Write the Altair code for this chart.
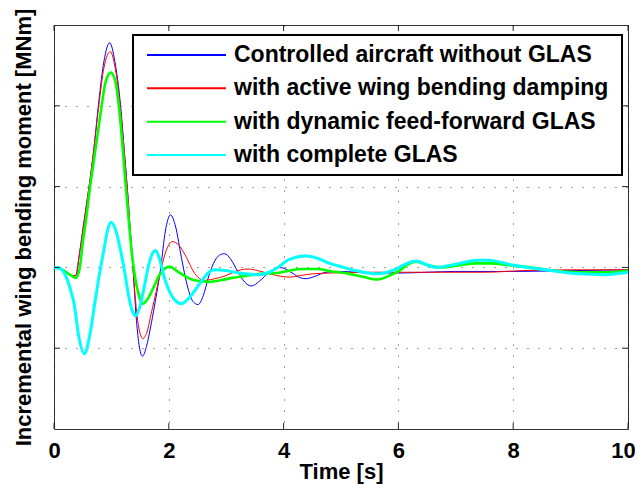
import altair as alt
import pandas as pd

FONT = "Liberation Sans"

series_names = [
    "Controlled aircraft without GLAS",
    "with active wing bending damping",
    "with dynamic feed-forward GLAS",
    "with complete GLAS",
]
series_colors = ["#0000ff", "#ff0000", "#00ff00", "#00ffff"]
series_widths = [1.0, 1.0, 2.6, 3.0]

blue_t = [0, 0.15, 0.3, 0.38, 0.44, 0.5, 0.57, 0.63, 0.7, 0.78, 0.87, 0.97, 1.06, 1.16, 1.23, 1.28,
          1.33, 1.38, 1.43, 1.48, 1.54, 1.61, 1.68, 1.75, 1.86, 1.94, 2.03, 2.12, 2.22, 2.32, 2.42,
          2.51, 2.6, 2.7, 2.8, 2.88, 2.97, 3.08, 3.2, 3.32, 3.44, 3.58, 3.75, 3.9, 4.0, 4.15, 4.3,
          4.39, 4.55, 4.74, 5.0, 5.5, 6.0, 6.5, 7.0, 8.0, 9.0, 10.0]
blue_y = [0, -0.03, -0.1, -0.1, 0.15, 0.45, 0.8, 1.1, 1.5, 2.05, 2.55, 2.78, 2.55, 2.0, 1.4, 0.95,
          0.45, -0.05, -0.6, -0.95, -1.1, -0.98, -0.75, -0.48, 0.0, 0.45, 0.65, 0.5, 0.12, -0.22, -0.42,
          -0.46, -0.35, -0.1, 0.08, 0.15, 0.17, 0.1, -0.05, -0.18, -0.23, -0.17, -0.06, 0.0, -0.01, -0.07, -0.13,
          -0.14, -0.11, -0.06, -0.05, -0.07, -0.07, -0.06, -0.05, -0.05, -0.04, -0.03]

red_t = [0, 0.15, 0.3, 0.38, 0.44, 0.5, 0.57, 0.63, 0.7, 0.78, 0.87, 0.98, 1.07, 1.16, 1.23, 1.28,
         1.33, 1.38, 1.44, 1.5, 1.55, 1.62, 1.7, 1.78, 1.86, 1.95, 2.06, 2.18, 2.31, 2.42, 2.54, 2.62,
         2.8, 3.0, 3.2, 3.38, 3.55, 3.76, 3.95, 4.1, 4.3, 4.5, 4.8, 5.5, 6.5, 7.5, 8.16, 9.0, 10.0]
red_y = [0, -0.03, -0.1, -0.1, 0.15, 0.45, 0.8, 1.1, 1.5, 2.0, 2.47, 2.67, 2.45, 1.95, 1.38, 0.95,
         0.45, -0.05, -0.55, -0.82, -0.88, -0.8, -0.55, -0.3, -0.04, 0.2, 0.32, 0.27, 0.12, -0.04, -0.14, -0.16,
         -0.14, -0.1, -0.04, -0.02, -0.04, -0.08, -0.11, -0.12, -0.1, -0.08, -0.07, -0.06, -0.06, -0.06, -0.04, -0.03, -0.03]

green_t = [0, 0.15, 0.3, 0.38, 0.45, 0.5, 0.56, 0.62, 0.69, 0.75, 0.82, 0.9, 0.99, 1.07, 1.13, 1.2,
           1.25, 1.3, 1.36, 1.42, 1.48, 1.55, 1.64, 1.74, 1.83, 1.92, 2.02, 2.13, 2.26, 2.4, 2.55, 2.71,
           2.9, 3.1, 3.29, 3.6, 3.87, 4.1, 4.3, 4.57, 4.85, 5.15, 5.4, 5.64, 5.85, 6.02, 6.15, 6.31,
           6.5, 6.75, 7.0, 7.35, 7.6, 8.0, 8.3, 8.57, 9.15, 9.73, 10.0]
green_y = [0, -0.03, -0.1, -0.13, 0.0, 0.3, 0.6, 0.95, 1.3, 1.6, 1.95, 2.3, 2.41, 2.3, 2.0, 1.45,
           1.0, 0.6, 0.15, -0.15, -0.35, -0.45, -0.38, -0.24, -0.1, -0.02, 0.01, -0.04, -0.1, -0.15, -0.17, -0.18,
           -0.16, -0.13, -0.11, -0.08, -0.07, -0.04, -0.02, -0.02, -0.05, -0.08, -0.12, -0.15, -0.1, -0.04, 0.03, 0.07,
           0.03, 0.0, 0.02, 0.05, 0.05, 0.02, 0.0, -0.03, -0.06, -0.06, -0.04]

cyan_t = [0, 0.1, 0.2, 0.29, 0.35, 0.43, 0.53, 0.62, 0.72, 0.8, 0.87, 0.93, 0.99, 1.08, 1.16, 1.23,
          1.3, 1.36, 1.42, 1.49, 1.57, 1.65, 1.72, 1.77, 1.84, 1.92, 2.0, 2.1, 2.22, 2.35, 2.54, 2.7,
          2.8, 3.0, 3.23, 3.55, 3.75, 3.9, 4.1, 4.39, 4.6, 4.8, 5.05, 5.26, 5.61, 5.96, 6.15, 6.31,
          6.5, 6.66, 7.0, 7.4, 7.58, 7.8, 7.99, 8.57, 9.15, 9.61, 10.0]
cyan_y = [0, -0.01, -0.1, -0.28, -0.45, -0.85, -1.07, -0.85, -0.4, -0.05, 0.22, 0.45, 0.56, 0.45, 0.21, -0.05,
          -0.35, -0.53, -0.6, -0.5, -0.25, 0.03, 0.18, 0.21, 0.1, -0.12, -0.28, -0.4, -0.45, -0.38, -0.2, -0.06,
          -0.03, -0.04, -0.07, -0.09, -0.06, 0.0, 0.1, 0.14, 0.11, 0.05, 0.0, -0.04, -0.08, -0.02, 0.05, 0.08,
          0.03, 0.0, 0.04, 0.09, 0.09, 0.06, 0.03, -0.03, -0.08, -0.09, -0.06]

x_ticks = [0, 2, 4, 6, 8, 10]
y_ticks = [-1, 0, 1, 2]
x_domain = [0, 10]
y_domain = [-2, 3]

W, H = 574, 404

xscale = alt.Scale(domain=x_domain, nice=False, zero=False)
yscale = alt.Scale(domain=y_domain, nice=False, zero=False)

x_axis = alt.Axis(
    title="Time [s]", values=x_ticks, grid=True, gridColor="#000000", gridDash=[1, 10],
    gridOpacity=0.75, gridWidth=1, ticks=False, tickSize=0, domain=False,
    labelFont=FONT, labelFontSize=22, labelFontWeight="bold", labelColor="#000000",
    labelPadding=11, labelFlush=False, labelOverlap=False,
    labelOffset={"condition": {"test": "datum.value == 10", "value": -5}, "value": 0},
    titleFont=FONT, titleFontSize=22, titleFontWeight="bold", titleColor="#000000",
    titleX=W / 2, titleY=49, titleBaseline="alphabetic", titleAlign="center",
)
y_axis = alt.Axis(
    title="Incremental wing bending moment [MNm]", values=y_ticks, grid=True,
    gridColor="#000000", gridDash=[1, 10], gridOpacity=0.75, gridWidth=1,
    ticks=False, tickSize=0, labels=False, domain=False,
    titleFont=FONT, titleFontSize=22, titleFontWeight="bold", titleColor="#000000",
    titleAngle=270, titleX=-24, titleY=H / 2, titleBaseline="alphabetic", titleAlign="center",
)


def xenc():
    return alt.X("time:Q", scale=xscale, axis=x_axis)


def yenc():
    return alt.Y("value:Q", scale=yscale, axis=y_axis)


all_t = [blue_t, red_t, green_t, cyan_t]
all_y = [blue_y, red_y, green_y, cyan_y]

line_layers = []
for name, col, w, ts, ys in zip(series_names, series_colors, series_widths, all_t, all_y):
    df = pd.DataFrame({"time": ts, "value": ys})
    line_layers.append(
        alt.Chart(df).mark_line(color=col, strokeWidth=w, interpolate="monotone", clip=True)
        .encode(x=xenc(), y=yenc())
    )

# inward tick marks on all four sides (positions from the scales)
xt = pd.DataFrame({"time": x_ticks})
yt = pd.DataFrame({"value": y_ticks})
TICK = 6
tick_style = dict(color="#222222", strokeWidth=1)
ticks_top = alt.Chart(xt).mark_rule(**tick_style).encode(x=xenc(), y=alt.value(0), y2=alt.value(TICK))
ticks_bot = alt.Chart(xt).mark_rule(**tick_style).encode(x=xenc(), y=alt.value(H - TICK), y2=alt.value(H))
ticks_left = alt.Chart(yt).mark_rule(**tick_style).encode(y=yenc(), x=alt.value(0), x2=alt.value(TICK))
ticks_right = alt.Chart(yt).mark_rule(**tick_style).encode(y=yenc(), x=alt.value(W - TICK), x2=alt.value(W))

main = alt.layer(*line_layers, ticks_top, ticks_bot, ticks_left, ticks_right)

# legend
legend_df = pd.DataFrame({"name": series_names, "row": list(range(len(series_names))), "color": series_colors})
rowscale = alt.Scale(domain=[0, 3], range=[30, 130])
legend_box = alt.Chart(pd.DataFrame({"a": [0]})).mark_rect(
    fill="white", stroke="#000000", strokeWidth=2
).encode(x=alt.value(79), x2=alt.value(568), y=alt.value(10), y2=alt.value(150))
legend_lines = alt.Chart(legend_df).mark_rule(strokeWidth=2).encode(
    x=alt.value(93), x2=alt.value(172),
    y=alt.Y("row:Q", scale=rowscale, axis=None),
    color=alt.Color("color:N", scale=None, legend=None),
)
legend_text = alt.Chart(legend_df).mark_text(
    align="left", baseline="middle", font=FONT, fontSize=23, fontWeight="bold", color="#000000"
).encode(
    x=alt.value(180),
    y=alt.Y("row:Q", scale=rowscale, axis=None),
    text="name:N",
)
legend = alt.layer(legend_box, legend_lines, legend_text)

chart = (
    alt.layer(main, legend)
    .resolve_scale(y="independent")
    .properties(
        width=W, height=H,
        autosize=alt.AutoSizeParams(type="none"),
        padding={"left": 46, "top": 17, "right": 7, "bottom": 55},
        background="white",
    )
    .configure_view(stroke="#333333", strokeWidth=1)
)

chart.save("out.html", embed_options={"renderer": "svg", "actions": False})
